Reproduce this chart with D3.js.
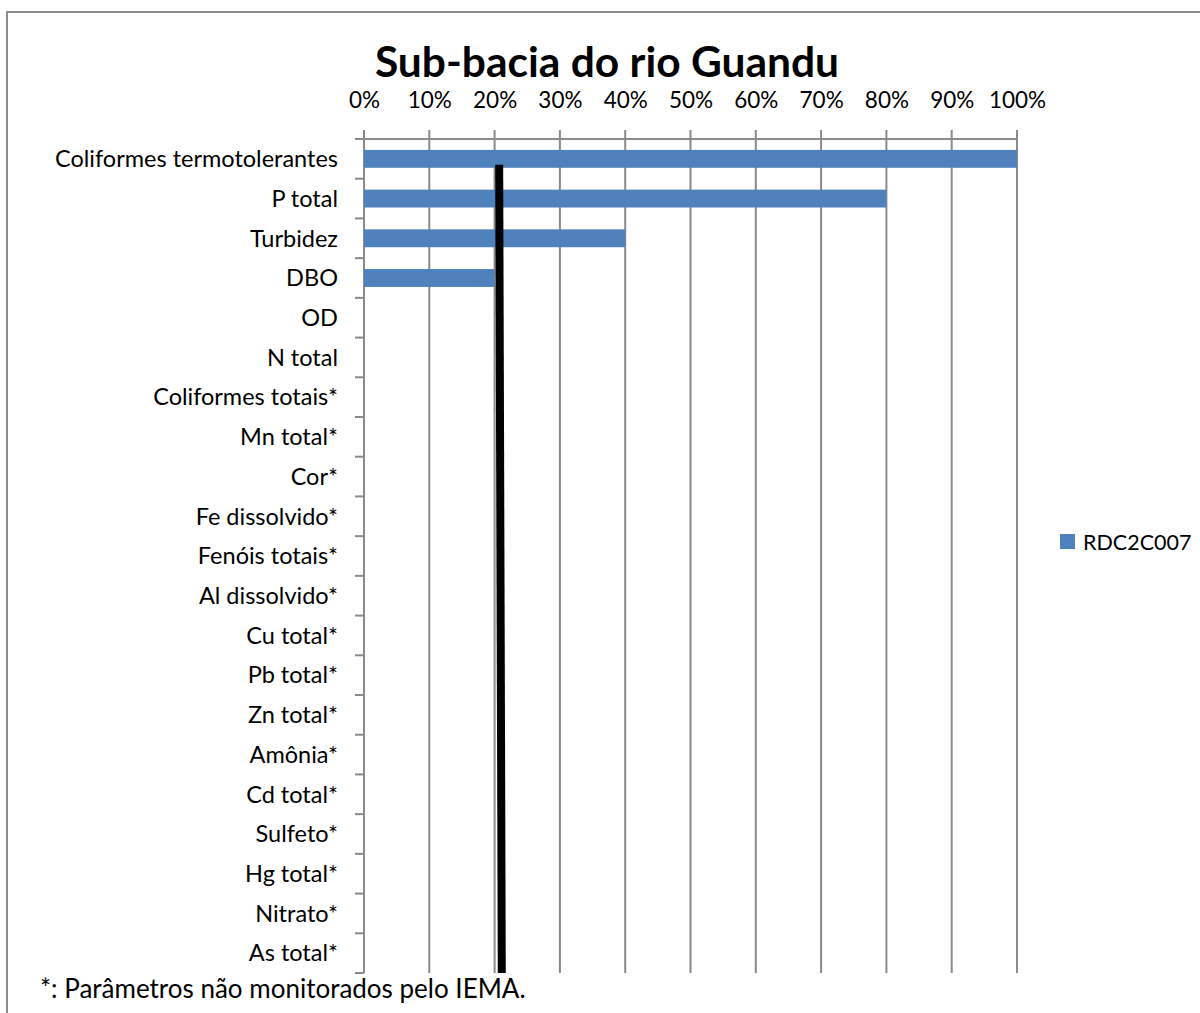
<!DOCTYPE html>
<html>
<head>
<meta charset="utf-8">
<script src="https://cdn.jsdelivr.net/npm/d3@7"></script>
<style>
  html, body { margin: 0; padding: 0; background: #fff; }
  svg { display: block; }
  text { font-family: Lato, "Open Sans", sans-serif; fill: #000; }
</style>
</head>
<body>
<svg id="chart" width="1200" height="1013"></svg>
<script>
const title = "Sub-bacia do rio Guandu";
const categories = [
  "Coliformes termotolerantes", "P total", "Turbidez", "DBO", "OD", "N total",
  "Coliformes totais*", "Mn total*", "Cor*", "Fe dissolvido*", "Fenóis totais*",
  "Al dissolvido*", "Cu total*", "Pb total*", "Zn total*", "Amônia*",
  "Cd total*", "Sulfeto*", "Hg total*", "Nitrato*", "As total*"
];
const seriesName = "RDC2C007";
const values = [1.0, 0.8, 0.4, 0.2, 0, 0, 0, 0, 0, 0, 0, 0, 0, 0, 0, 0, 0, 0, 0, 0, 0];
const xTicks = [0, 0.1, 0.2, 0.3, 0.4, 0.5, 0.6, 0.7, 0.8, 0.9, 1.0];
const referenceLine = [0.207, 0.211]; // top, bottom positions of the black marker line
const footnote = "*: Parâmetros não monitorados pelo IEMA.";

const svg = d3.select("#chart");
const gridColor = "#8a8a8a";
const barColor = "#4f81bd";

// outer frame
svg.append("rect")
  .attr("x", 7).attr("y", 12).attr("width", 1210).attr("height", 1020)
  .attr("fill", "none").attr("stroke", "#8c8c8c").attr("stroke-width", 2);

const plot = { left: 364, right: 1017, top: 139, bottom: 973 };

const x = d3.scaleLinear().domain([0, 1]).range([plot.left, plot.right]);
const y = d3.scaleBand().domain(categories).range([plot.top, plot.bottom]).paddingInner(0.55).paddingOuter(0.275);
const yb = d3.scaleBand().domain(categories).range([plot.top, plot.bottom]);

// title
svg.append("text")
  .attr("x", 607).attr("y", 77)
  .attr("text-anchor", "middle")
  .style("font-size", "42.5px").style("font-weight", "bold")
  .text(title);

// vertical gridlines
svg.append("g").selectAll("line").data(xTicks).join("line")
  .attr("x1", d => x(d)).attr("x2", d => x(d))
  .attr("y1", plot.top - 9).attr("y2", plot.bottom)
  .attr("stroke", gridColor).attr("stroke-width", 2);

// top axis line
svg.append("line")
  .attr("x1", plot.left).attr("x2", plot.right)
  .attr("y1", plot.top).attr("y2", plot.top)
  .attr("stroke", gridColor).attr("stroke-width", 2);

// top axis labels
const xAxis = d3.axisTop(x).tickValues(xTicks).tickFormat(d3.format(".0%")).tickSize(0);
const gx = svg.append("g").attr("transform", `translate(0, 108)`).call(xAxis);
gx.select(".domain").remove();
gx.selectAll("text").attr("dy", 0).attr("y", 0)
  .style("font-size", "22.5px").style("font-family", "Lato, sans-serif").attr("fill", "#000");

// category axis
const boundaries = categories.map(c => yb(c)).concat([plot.bottom]);
svg.append("g").selectAll("line").data(boundaries).join("line")
  .attr("x1", plot.left - 9).attr("x2", plot.left)
  .attr("y1", d => d).attr("y2", d => d)
  .attr("stroke", gridColor).attr("stroke-width", 2);
svg.append("line")
  .attr("x1", plot.left).attr("x2", plot.left)
  .attr("y1", plot.top).attr("y2", plot.bottom)
  .attr("stroke", gridColor).attr("stroke-width", 2);

svg.append("g").selectAll("text").data(categories).join("text")
  .attr("x", 338)
  .attr("y", d => yb(d) + yb.bandwidth() / 2)
  .attr("dy", "0.35em")
  .attr("text-anchor", "end")
  .style("font-size", "23.5px")
  .text(d => d);

// bars
svg.append("g").selectAll("rect").data(values.map((v, i) => ({ c: categories[i], v })).filter(d => d.v > 0)).join("rect")
  .attr("x", x(0))
  .attr("y", d => y(d.c))
  .attr("width", d => x(d.v) - x(0))
  .attr("height", y.bandwidth())
  .attr("fill", barColor);

// black reference line
svg.append("line")
  .attr("x1", x(referenceLine[0])).attr("x2", x(referenceLine[1]))
  .attr("y1", y(categories[0]) + y.bandwidth() - 3).attr("y2", plot.bottom)
  .attr("stroke", "#000").attr("stroke-width", 8);

// legend
const lg = svg.append("g").attr("transform", "translate(1060, 534)");
lg.append("rect").attr("width", 15).attr("height", 15).attr("fill", barColor);
lg.append("text").attr("x", 23).attr("y", 8).attr("dy", "0.35em")
  .style("font-size", "21.5px").text(seriesName);

// footnote
svg.append("text")
  .attr("x", 40).attr("y", 998)
  .style("font-size", "26px")
  .text(footnote);
</script>
</body>
</html>
